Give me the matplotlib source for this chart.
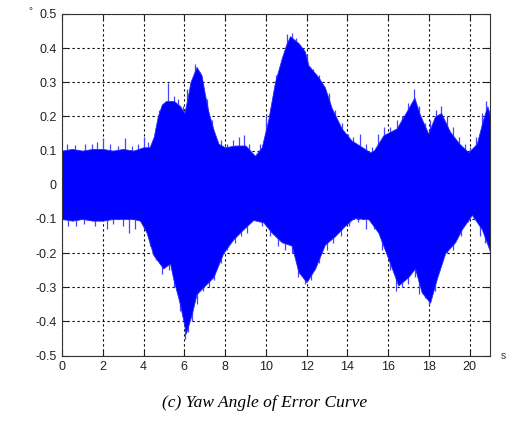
import matplotlib
matplotlib.use("Agg")
import matplotlib.pyplot as plt
import numpy as np

# Upper envelope of the yaw angle error (deg) against time (s)
up_t = [0, 0.5, 1.0, 1.5, 2.0, 2.5, 3.0, 3.5, 4.0, 4.3, 4.5, 4.7, 4.9, 5.1, 5.5, 5.8, 6.0,
        6.15, 6.3, 6.6, 6.85, 7.0, 7.2, 7.44, 7.68, 8.0, 8.5, 9.0, 9.47, 9.8, 10.12, 10.45,
        10.78, 11.0, 11.19, 11.6, 11.92, 12.09, 12.58, 12.9, 13.23, 13.72, 14.2, 14.86, 15.1,
        15.3, 15.77, 16.42, 16.91, 17.29, 17.56, 17.97, 18.3, 18.6, 19.04, 19.5, 19.94, 20.35,
        20.68, 20.87, 21.0]
up_v = [0.10, 0.105, 0.10, 0.105, 0.105, 0.10, 0.105, 0.10, 0.11, 0.11, 0.14, 0.20, 0.235,
        0.245, 0.245, 0.23, 0.21, 0.25, 0.30, 0.345, 0.32, 0.268, 0.21, 0.16, 0.12, 0.11,
        0.115, 0.115, 0.085, 0.11, 0.19, 0.30, 0.37, 0.41, 0.435, 0.415, 0.39, 0.35, 0.315,
        0.285, 0.225, 0.165, 0.13, 0.105, 0.095, 0.10, 0.145, 0.165, 0.215, 0.255, 0.205, 0.15,
        0.20, 0.21, 0.155, 0.12, 0.095, 0.12, 0.195, 0.23, 0.205]

# Lower envelope
lo_t = [0, 0.5, 1.0, 1.5, 2.0, 2.5, 3.0, 3.5, 3.83, 4.15, 4.48, 4.97, 5.3, 5.46, 5.79, 6.08,
        6.36, 6.6, 6.93, 7.43, 7.91, 8.4, 8.9, 9.39, 9.88, 10.29, 10.78, 11.27, 11.6, 12.0,
        12.42, 12.9, 13.4, 13.88, 14.3, 15.03, 15.52, 16.0, 16.5, 16.99, 17.32, 17.65, 18.06,
        18.39, 18.8, 19.29, 19.62, 20.11, 20.6, 21.0]
lo_v = [-0.10, -0.105, -0.10, -0.105, -0.105, -0.10, -0.10, -0.10, -0.105, -0.14, -0.205,
        -0.245, -0.23, -0.275, -0.35, -0.435, -0.38, -0.32, -0.30, -0.27, -0.20, -0.16, -0.13,
        -0.103, -0.11, -0.14, -0.168, -0.178, -0.255, -0.285, -0.245, -0.175, -0.15, -0.12,
        -0.098, -0.10, -0.14, -0.215, -0.295, -0.27, -0.245, -0.315, -0.345, -0.275, -0.20,
        -0.168, -0.13, -0.088, -0.13, -0.195]

# Individual peaks poking out beyond the envelope
up_spike_t = [0.23, 0.64, 1.13, 1.46, 1.7, 2.03, 2.36, 2.76, 3.09, 3.42, 3.75, 4.0, 4.24,
              4.75, 5.2, 5.5, 5.7, 5.95, 6.15, 6.55, 6.75, 7.1, 7.35, 7.8, 8.1, 8.4, 8.7,
              8.95, 9.2, 9.7, 10.0, 10.5, 11.05, 11.3, 11.5, 12.0, 12.3, 12.6, 13.1, 13.4,
              13.75, 14.05, 14.3, 14.6, 14.9, 15.2, 15.5, 15.8, 16.1, 16.45, 16.7, 17.0,
              17.25, 17.5, 17.8, 18.05, 18.35, 18.6, 18.9, 19.2, 19.5, 19.75, 20.0, 20.3,
              20.6, 20.8]
up_spike_v = [0.12, 0.117, 0.12, 0.12, 0.126, 0.136, 0.12, 0.115, 0.136, 0.115, 0.12, 0.141,
              0.125, 0.22, 0.297, 0.26, 0.25, 0.23, 0.28, 0.354, 0.33, 0.25, 0.19, 0.13, 0.12,
              0.13, 0.14, 0.145, 0.12, 0.12, 0.2, 0.32, 0.44, 0.445, 0.43, 0.38, 0.34, 0.32,
              0.27, 0.22, 0.18, 0.15, 0.14, 0.15, 0.12, 0.11, 0.15, 0.17, 0.17, 0.19, 0.2,
              0.24, 0.28, 0.23, 0.18, 0.19, 0.22, 0.23, 0.2, 0.17, 0.14, 0.12, 0.11, 0.14,
              0.21, 0.245]
lo_spike_t = [0.3, 0.7, 1.1, 1.6, 2.2, 2.5, 3.0, 3.3, 3.6, 4.3, 4.6, 4.9, 5.25, 5.5, 5.8,
              6.05, 6.2, 6.4, 6.6, 6.9, 7.2, 7.45, 7.8, 8.1, 8.5, 8.8, 9.1, 9.8, 10.2, 10.6,
              10.95, 11.3, 11.6, 11.9, 12.2, 12.6, 13.0, 13.3, 13.7, 14.1, 14.5, 14.9, 15.3,
              15.7, 16.1, 16.4, 16.7, 17.0, 17.3, 17.5, 17.8, 18.0, 18.3, 18.6, 18.9, 19.2,
              19.6, 19.9, 20.2, 20.5, 20.75]
lo_spike_v = [-0.12, -0.12, -0.115, -0.12, -0.13, -0.115, -0.12, -0.14, -0.13, -0.18, -0.22,
              -0.26, -0.25, -0.30, -0.37, -0.45, -0.43, -0.40, -0.35, -0.31, -0.30, -0.28,
              -0.23, -0.19, -0.17, -0.15, -0.14, -0.12, -0.15, -0.18, -0.19, -0.20, -0.27,
              -0.29, -0.28, -0.23, -0.19, -0.17, -0.15, -0.12, -0.11, -0.13, -0.13, -0.19,
              -0.25, -0.31, -0.30, -0.29, -0.27, -0.32, -0.33, -0.35, -0.31, -0.23, -0.20,
              -0.19, -0.15, -0.11, -0.10, -0.15, -0.17]

x_ticks = [0, 2, 4, 6, 8, 10, 12, 14, 16, 18, 20]
y_ticks = [-0.5, -0.4, -0.3, -0.2, -0.1, 0, 0.1, 0.2, 0.3, 0.4, 0.5]
y_labels = ["-0.5", "-0.4", "-0.3", "-0.2", "-0.1", "0", "0.1", "0.2", "0.3", "0.4", "0.5"]

plt.rcParams["font.family"] = ["Liberation Sans", "DejaVu Sans"]

fig = plt.figure(figsize=(5.11, 4.25), dpi=100)
ax = fig.add_axes([0.1213, 0.1633, 0.8376, 0.8038])

edge_blue = "#4646ff"
ax.vlines(up_spike_t, 0, up_spike_v, color=edge_blue, linewidth=0.9, zorder=2)
ax.vlines(lo_spike_t, lo_spike_v, 0, color=edge_blue, linewidth=0.9, zorder=2)

t = np.union1d(up_t, lo_t)
upper = np.interp(t, up_t, up_v)
lower = np.interp(t, lo_t, lo_v)
ax.fill_between(t, lower, upper, facecolor="#0000ff", edgecolor="#2a2aff",
                linewidth=0.6, zorder=3)

ax.set_xlim(0, 21)
ax.set_ylim(-0.5, 0.5)
ax.set_xticks(x_ticks)
ax.set_yticks(y_ticks)
ax.set_yticklabels(y_labels)
ax.tick_params(direction="in", length=4, width=0.8, labelsize=9, top=True, right=True,
               colors="#222222")
ax.tick_params(axis="y", pad=4)
ax.tick_params(axis="x", pad=4)
ax.grid(True, color="black", linestyle=(0, (2, 2.5)), linewidth=0.8, zorder=1)
ax.set_axisbelow(True)
for s in ax.spines.values():
    s.set_linewidth(0.8)
    s.set_color("#333333")
    s.set_zorder(4)

fig.text(30 / 511, 1 - 11 / 425, "°", fontsize=7, ha="center", va="center", color="#333333")
fig.text(503 / 511, 1 - 356 / 425, "s", fontsize=7.5, ha="center", va="center", color="#333333")
fig.text(265 / 511, 1 - 403 / 425, "(c) Yaw Angle of Error Curve", fontsize=12.5,
         family=["Liberation Serif"], style="italic", ha="center", va="center")

fig.savefig("out.png", dpi=100)
